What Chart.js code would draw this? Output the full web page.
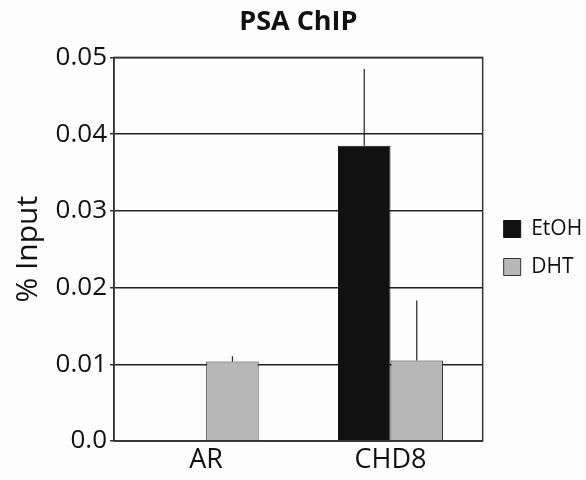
<!DOCTYPE html>
<html>
<head>
<meta charset="utf-8">
<script src="https://cdn.jsdelivr.net/npm/chart.js@4.4.1/dist/chart.umd.min.js"></script>
<style>
html,body{margin:0;padding:0;background:#fdfdfd;}
#wrap{width:586px;height:480px;}
</style>
</head>
<body>
<div id="wrap"><canvas id="c" width="586" height="480"></canvas></div>
<script>
const categories = ['AR', 'CHD8'];
const seriesNames = ['EtOH', 'DHT'];
const etohValues = [0, 0.0385];
const dhtValues = [0.01035, 0.0105];
const etohErrors = [0, 0.0100];
const dhtErrors = [0.0007, 0.0078];
const yTickLabels = ['0.0', '0.01', '0.02', '0.03', '0.04', '0.05'];

const FONT = "'Open Sans', 'Liberation Sans', sans-serif";

const errorBarPlugin = {
  id: 'errorBars',
  afterDatasetsDraw(chart) {
    const ctx = chart.ctx;
    const y = chart.scales.y;
    ctx.save();
    ctx.strokeStyle = '#222';
    ctx.lineWidth = 1.2;
    chart.data.datasets.forEach((ds, di) => {
      const meta = chart.getDatasetMeta(di);
      meta.data.forEach((bar, i) => {
        const err = ds.errors[i];
        if (!err) return;
        const v = ds.data[i];
        const yTop = y.getPixelForValue(v + err);
        const yBase = y.getPixelForValue(v);
        ctx.beginPath();
        ctx.moveTo(bar.x, yBase);
        ctx.lineTo(bar.x, yTop);
        ctx.stroke();
      });
    });
    ctx.restore();
  }
};

const framePlugin = {
  id: 'frame',
  afterDraw(chart) {
    const a = chart.chartArea;
    const ctx = chart.ctx;
    ctx.save();
    ctx.strokeStyle = '#333';
    ctx.lineWidth = 1.5;
    ctx.strokeRect(a.left, a.top, a.right - a.left, a.bottom - a.top);
    ctx.restore();
  }
};

new Chart(document.getElementById('c'), {
  type: 'bar',
  data: {
    labels: categories,
    datasets: [
      { label: seriesNames[0], data: etohValues, errors: etohErrors,
        backgroundColor: '#111111', borderColor: '#111111', borderWidth: 1 },
      { label: seriesNames[1], data: dhtValues, errors: dhtErrors,
        backgroundColor: '#b8b7b8', borderColor: '#333333', borderWidth: 1 }
    ]
  },
  options: {
    responsive: false,
    animation: false,
    devicePixelRatio: 1,
    layout: { padding: { left: 0, right: 2, top: 0, bottom: 0 } },
    datasets: { bar: { categoryPercentage: 0.57, barPercentage: 1.0 } },
    plugins: {
      title: {
        display: true, text: 'PSA ChIP', color: '#111', fullSize: false,
        font: { family: FONT, size: 27, weight: 'bold' },
        padding: { top: 6, bottom: 19 }
      },
      legend: {
        position: 'right',
        title: { display: true, text: ' ', font: { size: 10 }, padding: { top: 2, bottom: 2 } },
        labels: {
          color: '#111', boxWidth: 17, boxHeight: 17, padding: 17,
          font: { family: FONT, size: 21 }
        }
      },
      tooltip: { enabled: false }
    },
    scales: {
      x: {
        grid: { display: false, drawTicks: false },
        border: { display: true, color: '#333', width: 1.5 },
        ticks: { color: '#111', font: { family: FONT, size: 27, lineHeight: 1.0 }, padding: 6 }
      },
      y: {
        min: 0, max: 0.05,
        afterFit: (s) => { s.width = 114; },
        ticks: {
          stepSize: 0.01, color: '#111', padding: 3,
          font: { family: FONT, size: 26 },
          callback: (v, i) => yTickLabels[i]
        },
        grid: { color: '#222', lineWidth: 1.5, tickLength: 4, tickColor: '#333' },
        border: { display: true, color: '#333', width: 1.5 },
        title: {
          display: true, text: '% Input', color: '#111',
          font: { family: FONT, size: 30 }, padding: { top: 10, bottom: 0 }
        }
      },
      ySpacer: {
        type: 'linear', position: 'right', display: true,
        grid: { display: false, drawTicks: false },
        border: { display: false },
        ticks: { display: false },
        afterFit: (s) => { s.width = 4; }
      }
    }
  },
  plugins: [errorBarPlugin, framePlugin]
});
</script>
</body>
</html>
